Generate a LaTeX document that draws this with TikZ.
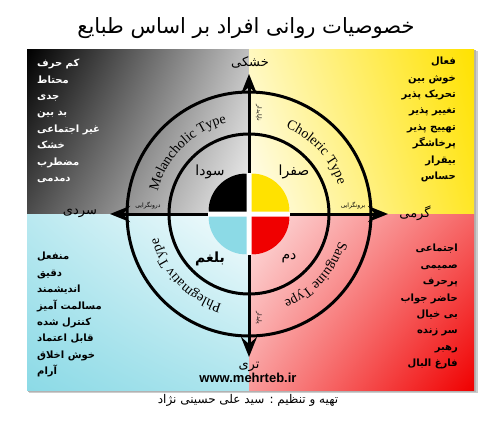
\documentclass[tikz,border=0pt]{standalone}
\usepackage{fontspec}
\setmainfont{Liberation Serif}
\newfontfamily\fa[Script=Arabic]{DejaVu Sans}
\newfontfamily\lsans{Liberation Sans}
\TeXXeTstate=1
\usetikzlibrary{arrows.meta,decorations.text,calc,shadings}
\newcommand\fr[1]{{\fa\beginR #1\endR}}
\definecolor{qyel}{RGB}{255,226,0}
\definecolor{qblue}{RGB}{140,218,230}
\definecolor{qred}{RGB}{240,0,0}
\tikzset{
  ring/.style={line width=3pt},
  axis/.style={line width=3pt,{Stealth[length=20pt,width=16pt,inset=7pt]}-{Stealth[length=20pt,width=16pt,inset=7pt]}},
  listtxt/.style={inner sep=0pt,font=\fontsize{10}{16.4}\selectfont\bfseries},
  pole/.style={inner sep=1pt,font=\fontsize{13}{13}\selectfont},
  humor/.style={inner sep=1pt,font=\fontsize{14}{14}\selectfont},
  tiny/.style={inner sep=0pt,font=\fontsize{6}{6}\selectfont},
}
\begin{document}
\begin{tikzpicture}[x=1pt,y=1pt]
\useasboundingbox (0,0) rectangle (500,421);
\fill[white] (0,0) rectangle (500,421);
% shadow
\fill[black!20] (29,28) rectangle (478,370);
\fill[black!30] (28,29) rectangle (476,371);
% quadrants
\shade[upper left=black, upper right=black!25, lower left=black!70, lower right=black!5] (27,207) rectangle (249,371);
\shade[upper left=qyel!25, upper right=qyel, lower left=qyel!5, lower right=qyel!85] (249,207) rectangle (474,371);
\shade[upper left=qblue!60, upper right=qblue!8, lower left=qblue, lower right=qblue!70] (27,31) rectangle (249,207);
\shade[upper left=qred!12, upper right=qred!60, lower left=qred!40, lower right=qred] (249,31) rectangle (474,207);
\coordinate (C) at (249,207);
\coordinate (L) at (110,207);
\coordinate (R) at (388,207);
\coordinate (T) at (249,347);
\coordinate (B) at (249,64);
% circles and axes
\draw[ring] (C) circle (122);
\draw[ring] (C) circle (80);
\draw[axis] (L) -- (R);
\draw[axis] (B) -- (T);
\fill[white] (C) circle (41);
\fill[black] ($(C)+(-2.5,2.5)$) -- ++(180:38) arc[start angle=180,end angle=90,radius=38] -- cycle;
\fill[qyel] ($(C)+(2.5,2.5)$) -- ++(90:38) arc[start angle=90,end angle=0,radius=38] -- cycle;
\fill[qblue] ($(C)+(-2.5,-2.5)$) -- ++(180:38) arc[start angle=180,end angle=270,radius=38] -- cycle;
\fill[qred] ($(C)+(2.5,-2.5)$) -- ++(0:38) arc[start angle=0,end angle=-90,radius=38] -- cycle;
% ring texts
\path[decorate,decoration={text along path,text align=center,text={|\fontsize{14}{14}\selectfont|Melancholic Type}}] ($(C)+(175:94)$) arc[start angle=175,end angle=95,radius=94];
\path[decorate,decoration={text along path,text align=center,text={|\fontsize{14}{14}\selectfont|Choleric Type}}] ($(C)+(82:94)$) arc[start angle=82,end angle=3,radius=94];
\path[decorate,decoration={text along path,text align=center,text={|\fontsize{14}{14}\selectfont|Sanguine Type}}] ($(C)+(-3:94)$) arc[start angle=-3,end angle=-82,radius=94];
\path[decorate,decoration={text along path,text align=center,text={|\fontsize{14}{14}\selectfont|Phlegmativ Type}}] ($(C)+(264:94)$) arc[start angle=264,end angle=184,radius=94];
% humors
\node[humor] (sauda) at (210,249) {\fr{سودا}};
\node[humor] (safra) at (294,249) {\fr{صفرا}};
\node[humor,font=\fontsize{14}{14}\selectfont\bfseries] (balgham) at (210,162) {\fr{بلغم}};
\node[humor] (dam) at (289,163) {\fr{دم}};
% small labels
\node[tiny] (intro) at (148,215) {\fr{درونگرایی}};
\node[tiny] (extro) at (353,215) {\fr{برونگرایی}};
\node[tiny,rotate=-90] (unst) at (259,308) {\fr{ناپایدار}};
\node[tiny,rotate=-90] (stab) at (259,103) {\fr{پایدار}};
% poles
\node[pole] (dry) at (250,359) {\fr{خشکی}};
\node[pole] (wet) at (249,54) {\fr{تری}};
\node[pole] (cold) at (80,208) {\fr{سردی}};
\node[pole] (warm) at (415,208) {\fr{گرمی}};
% lists
\node[listtxt,text=white,align=left,anchor=north west] (melan) at (37,362) {\fr{کم حرف}\\\fr{محتاط}\\\fr{جدی}\\\fr{بد بین}\\\fr{غیر اجتماعی}\\\fr{خشک}\\\fr{مضطرب}\\\fr{دمدمی}};
\node[listtxt,align=right,anchor=north east] (chol) at (456,364) {\fr{فعال}\\\fr{خوش بین}\\\fr{تحریک پذیر}\\\fr{تغییر پذیر}\\\fr{تهییج پذیر}\\\fr{پرخاشگر}\\\fr{بیقرار}\\\fr{حساس}};
\node[listtxt,align=left,anchor=north west] (phleg) at (37,169) {\fr{منفعل}\\\fr{دقیق}\\\fr{اندیشمند}\\\fr{مسالمت آمیز}\\\fr{کنترل شده}\\\fr{قابل اعتماد}\\\fr{خوش اخلاق}\\\fr{آرام}};
\node[listtxt,align=right,anchor=north east] (sang) at (458,177) {\fr{اجتماعی}\\\fr{صمیمی}\\\fr{پرحرف}\\\fr{حاضر جواب}\\\fr{بی خیال}\\\fr{سر زنده}\\\fr{رهبر}\\\fr{فارغ البال}};
% title and footer
\node[inner sep=0pt,font=\fontsize{21}{21}\selectfont] (title) at (246,393) {\fr{خصوصیات روانی افراد بر اساس طبایع}};
\node[inner sep=0pt,font=\lsans\bfseries\fontsize{13}{13}\selectfont] (web) at (248,43) {www.mehrteb.ir};
\node[inner sep=0pt,font=\fontsize{12}{12}\selectfont] (credit) at (248,21) {\fr{تهیه و تنظیم : سید علی حسینی نژاد}};
\end{tikzpicture}
\end{document}
